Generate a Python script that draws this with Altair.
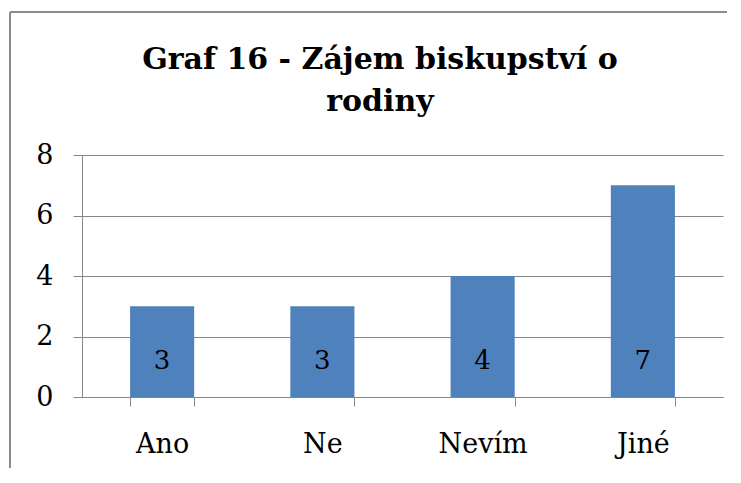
import altair as alt
import pandas as pd

categories = ["Ano", "Ne", "Nevím", "Jiné"]
values = [3, 3, 4, 7]
y_ticks = [0, 2, 4, 6, 8]
title_lines = ["Graf 16 - Zájem  biskupství o", "rodiny"]

df = pd.DataFrame({"kategorie": categories, "pocet": values})

W, H = 641, 242
GRAY = "#868686"
FONT = "DejaVu Serif"

x_enc = alt.X(
    "kategorie:N", sort=categories, title=None,
    scale=alt.Scale(paddingInner=0.6, paddingOuter=0.3),
    axis=alt.Axis(labelAngle=0, labelFont=FONT, labelFontSize=27, labelColor="black",
                  tickBand="extent", tickSize=9, tickColor=GRAY, domainColor=GRAY,
                  labelPadding=25, grid=False),
)
y_enc = alt.Y(
    "pocet:Q", title=None, scale=alt.Scale(domain=[0, 8], nice=False),
    axis=alt.Axis(values=y_ticks, labelFont=FONT, labelFontSize=27, labelColor="black",
                  tickSize=9, tickColor=GRAY, domainColor=GRAY, gridColor=GRAY,
                  grid=True, labelPadding=20),
)

bars = alt.Chart(df).mark_bar(color="#4F81BD").encode(x=x_enc, y=y_enc)

labels = alt.Chart(df).mark_text(
    font=FONT, fontSize=26, baseline="alphabetic", dy=-28, color="black"
).encode(
    x=alt.X("kategorie:N", sort=categories),
    y=alt.Y(datum=0),
    text="pocet:Q",
)

one = pd.DataFrame({"a": [0]})
frame_left = alt.Chart(one).mark_rule(stroke="#8c8c8c", strokeWidth=2).encode(
    x=alt.value(-72), y=alt.value(-143), y2=alt.value(313)
)
frame_top = alt.Chart(one).mark_rule(stroke="#8c8c8c", strokeWidth=2).encode(
    x=alt.value(-72), x2=alt.value(645), y=alt.value(-143)
)

title = alt.Chart(pd.DataFrame({"t": [title_lines]})).mark_text(
    font=FONT, fontSize=30, fontWeight="bold", color="black",
    align="center", baseline="alphabetic", lineHeight=42
).encode(
    x=alt.value(298), y=alt.value(-86), text="t"
)

chart = alt.layer(frame_left, frame_top, bars, labels, title).properties(
    width=W, height=H,
    padding={"left": 1, "top": 3, "right": 0, "bottom": 0},
).configure_view(stroke=None).configure_axis(domainWidth=1, tickWidth=1, gridWidth=1)

chart.save("out.html", embed_options={"renderer": "svg", "actions": False})
